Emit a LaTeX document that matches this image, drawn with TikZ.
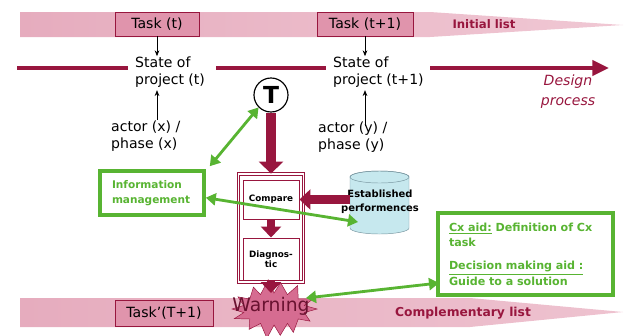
\documentclass[tikz,border=0pt]{standalone}
\usepackage{fontspec}
\setmainfont{DejaVu Sans}
\usetikzlibrary{arrows.meta}
\definecolor{maroon}{RGB}{152,22,62}
\definecolor{bandpink}{RGB}{230,172,190}
\definecolor{bandlight}{RGB}{240,200,212}
\definecolor{taskpink}{RGB}{224,148,172}
\definecolor{aidgreen}{RGB}{88,180,50}
\definecolor{dbcyan}{RGB}{198,232,238}
\definecolor{dbedge}{RGB}{120,150,160}
\definecolor{warnpink}{RGB}{214,108,145}
\definecolor{warntext}{RGB}{105,18,48}
\begin{document}
\begin{tikzpicture}[
        x=0.03cm, y=-0.03cm,
        every node/.style={inner sep=0pt},
        task/.style={draw=maroon, fill=taskpink, line width=0.8pt, minimum height=0.72cm, font=\fontsize{12}{14}\selectfont},
        txt/.style={anchor=west, align=left, font=\fontsize{12}{15}\selectfont},
        listtext/.style={font=\bfseries\fontsize{10}{12}\selectfont, text=maroon},
        axisline/.style={line width=3.5pt, maroon},
        link/.style={-{Stealth[length=5pt,width=4pt]}, semithick},
        flow/.style={-{Triangle[length=0.36cm,width=0.72cm]}, line width=0.3cm, maroon},
        flowsm/.style={-{Triangle[length=0.33cm,width=0.6cm]}, line width=0.25cm, maroon},
        biarrow/.style={{Triangle[length=0.3cm,width=0.36cm]}-{Triangle[length=0.3cm,width=0.36cm]}, line width=2.4pt, aidgreen},
        greenbox/.style={draw=aidgreen, line width=3pt, fill=white, text=aidgreen, align=left},
        stepbox/.style={draw=maroon, line width=0.8pt, fill=white, minimum width=1.68cm, font=\bfseries\fontsize{7.5}{9}\selectfont, align=center}
    ]
        \useasboundingbox (0,0) rectangle (627,335);

        % Initial and complementary lists
        \path[left color=bandpink, right color=bandlight] (20,12) -- (430,12) -- (623,25) -- (430,37) -- (20,37) -- cycle;
        \path[left color=bandpink, right color=bandlight!80!bandpink] (20,298) -- (470,298) -- (623,312) -- (470,327) -- (20,327) -- cycle;
        \node[task, minimum width=2.52cm] (task1) at (157,24) {Task (t)};
        \node[task, minimum width=2.88cm] (task2) at (365,24) {Task (t+1)};
        \node[task, minimum width=2.94cm, minimum height=0.78cm] (task3) at (164,313) {Task'(T+1)};
        \node[listtext] (init) at (484,24) {Initial list};
        \node[listtext, font=\bfseries\fontsize{10.5}{12}\selectfont] (compl) at (463,313) {Complementary list};

        % Design process
        \draw[axisline] (17,68) -- (128,68) (216,68) -- (326,68);
        \draw[axisline, -{Triangle[length=0.5cm,width=0.45cm]}] (430,68) -- (609,68);
        \node[align=center, text=maroon, font=\itshape\fontsize{12}{17}\selectfont] (design) at (568,92) {Design\\process};

        % States, actors and phases
        \node[txt] (st1) at (135,72) {State of\\project (t)};
        \node[txt] (st2) at (333,72) {State of\\project (t+1)};
        \node[txt] (act1) at (111,136) {actor (x) /\\phase (x)};
        \node[txt] (act2) at (318,137) {actor (y) /\\phase (y)};
        \draw[link] (task1.south) -- (task1.south |- st1.north);
        \draw[link] (task1.south |- act1.north) -- ([yshift=-2pt]task1.south |- st1.south);
        \draw[link] (task2.south) -- (task2.south |- st2.north);
        \draw[link] ([yshift=-4pt]task2.south |- act2.north) -- ([yshift=-2pt]task2.south |- st2.south);

        % Checking
        \node[circle, draw, line width=1pt, fill=white, minimum size=1.02cm, font=\bfseries\fontsize{20}{20}\selectfont] (T) at (271,95) {T};
        \node[draw=maroon, double=white, double distance=1.2pt, line width=0.7pt, fill=white, minimum width=1.95cm, minimum height=3.24cm] (frame) at (271,228) {};
        \node[stepbox, minimum height=1.17cm] (compare) at (271,199.5) {Compare};
        \node[stepbox, minimum height=1.26cm] (diag) at (271,259) {Diagnos-\\tic};
        % database cylinder
        \filldraw[draw=dbedge, fill=dbcyan] (350,177) -- (350,228) arc[start angle=180, end angle=0, x radius=29.5, y radius=6] -- (409,177) arc[start angle=0, end angle=-180, x radius=29.5, y radius=6] -- cycle;
        \draw[dbedge] (379.5,177) ellipse [x radius=29.5, y radius=6];
        \node[minimum width=1.77cm, minimum height=1.95cm] (db) at (379.5,202.5) {};
        \node[align=center, font=\bfseries\fontsize{8.5}{12}\selectfont] (perf) at (380,201.5) {Established\\performences};
        \draw[flow] (T.south) -- (frame.north);
        \draw[flowsm] (db.west |- compare.east) -- (compare.east);
        \draw[flowsm] (compare.south) -- (diag.north);
        % warning star
        \coordinate (warnc) at (274,309);
        \draw[maroon, fill=warnpink] ([shift={({31*cos(347.15)},{16*sin(347.15)})}]warnc)
            \foreach \a/\rx/\ry in {0/43/24, 25.7/40/28, 51.4/31/30, 77.1/28/27, 102.8/32/30, 128.5/40/26, 154.2/44/22, 180/42/24, 205.7/40/28, 231.4/33/28, 257.1/26/30, 282.8/30/27, 308.5/38/30, 334.2/44/24} {
                -- ([shift={({\rx*cos(\a)},{\ry*sin(\a)})}]warnc) -- ([shift={({31*cos(\a+12.85)},{16*sin(\a+12.85)})}]warnc)
            } -- cycle;
        \node[text=warntext, font=\fontsize{16}{16}\selectfont] (warn) at (271,306) {Warning};
        \coordinate (warntop) at (271,293);
        \draw[flowsm] (diag.south) -- (warntop);

        % Aids
        \node[greenbox, minimum width=3.12cm, minimum height=1.32cm, text width=2.4cm, font=\bfseries\fontsize{9}{13}\selectfont] (info) at (152,193) {Information\\management};
        \node[greenbox, minimum width=5.25cm, minimum height=2.46cm, text width=4.59cm, font=\bfseries\fontsize{9.5}{13}\selectfont] (aid) at (525.5,254) {\underline{Cx aid:} Definition of Cx\\task\\[7pt]\underline{Decision making aid :}\\Guide to a solution};
        \coordinate (dbin) at (358,222);
        \coordinate (warnin) at (306,298);
        \coordinate (aidin) at (439,283);
        \draw[biarrow] ([shift={(4,-3)}]info.north east) -- (T.south west);
        \draw[biarrow] ([yshift=-4pt]info.east) -- (dbin);
        \draw[biarrow] (warnin) -- (aidin);
    \end{tikzpicture}
\end{document}
